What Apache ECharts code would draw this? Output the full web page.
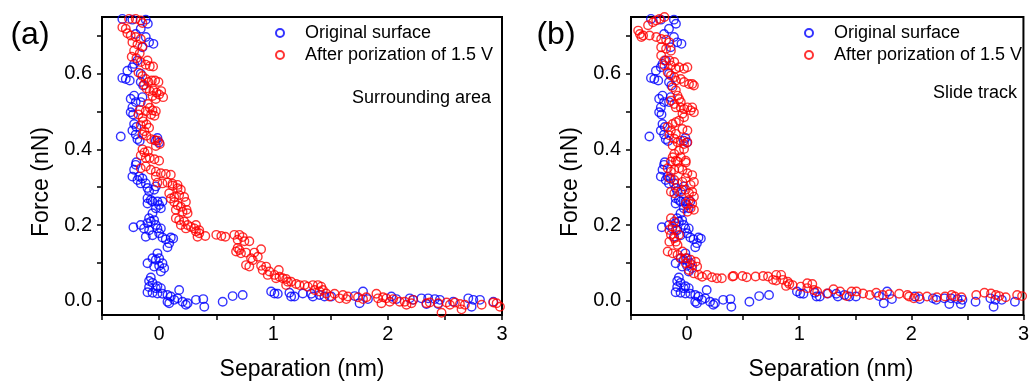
<!DOCTYPE html>
<html><head><meta charset="utf-8">
<script src="https://cdn.jsdelivr.net/npm/echarts@6/dist/echarts.min.js"></script>
<style>html,body{margin:0;padding:0;background:#fff}#chart{width:1032px;height:383px}</style>
</head><body><div id="chart"></div>
<script>
// ---- tick / label values ----
const xTickValues = [-0.5, 0, 0.5, 1, 1.5, 2, 2.5, 3];
const xLabelValues = [0, 1, 2, 3];
const yTickValues = [0, 0.1, 0.2, 0.3, 0.4, 0.5, 0.6, 0.7];
const yLabelValues = [0, 0.2, 0.4, 0.6];
const seriesNames = ['Original surface', 'After porization of 1.5 V'];
const panelLetters = ['(a)', '(b)'];
const panelNotes = ['Surrounding area', 'Slide track'];
const xTitle = 'Separation (nm)';
const yTitle = 'Force (nN)';

// ---- data: [separation (nm), force (nN)] ----
const originalSurface = [
[-0.322,0.745],[-0.234,0.743],[-0.117,0.743],[-0.099,0.732],[-0.161,0.719],[-0.205,0.705],[-0.117,0.697],[-0.088,0.683],[-0.050,0.679],[-0.146,0.670],
[-0.190,0.635],[-0.219,0.626],[-0.234,0.617],[-0.278,0.608],[-0.322,0.589],[-0.292,0.586],[-0.257,0.582],[-0.161,0.600],[-0.161,0.578],[-0.140,0.569],
[-0.219,0.542],[-0.249,0.534],[-0.205,0.525],[-0.234,0.511],[-0.249,0.498],[-0.228,0.492],[-0.146,0.538],[-0.161,0.525],[-0.219,0.467],[-0.199,0.459],
[-0.234,0.450],[-0.205,0.439],[-0.336,0.434],[-0.190,0.427],[-0.170,0.422],[-0.015,0.430],[0.000,0.418],[-0.029,0.423],[-0.199,0.366],
[-0.205,0.359],[-0.219,0.346],[-0.234,0.328],[-0.175,0.328],[-0.190,0.319],[-0.146,0.323],[-0.161,0.310],[-0.117,0.310],[-0.102,0.298],[-0.088,0.289],
[-0.044,0.293],[-0.029,0.302],[-0.102,0.271],[-0.073,0.266],[-0.102,0.257],[-0.058,0.262],[-0.015,0.262],[0.000,0.253],[0.029,0.262],[0.015,0.244],
[-0.029,0.244],[-0.058,0.231],[-0.088,0.218],[-0.073,0.209],[-0.102,0.205],[-0.044,0.213],[-0.029,0.200],[-0.225,0.194],[-0.161,0.200],[-0.132,0.191],
[-0.117,0.169],[-0.088,0.186],[-0.058,0.173],[-0.015,0.191],[0.015,0.191],[0.000,0.178],[0.029,0.167],[0.058,0.162],[0.088,0.152],[0.073,0.141],
[0.102,0.167],[0.123,0.164],[-0.015,0.125],[0.000,0.112],[-0.029,0.108],[-0.058,0.112],[-0.102,0.099],[-0.044,0.090],[0.000,0.092],[0.029,0.099],
[0.044,0.086],[0.015,0.077],[-0.073,0.061],[-0.088,0.052],[-0.058,0.047],[-0.015,0.038],[-0.088,0.036],[-0.029,0.033],[0.015,0.033],[-0.102,0.022],
[-0.058,0.021],[-0.015,0.019],[0.029,0.018],[0.073,0.015],[0.102,0.011],[0.073,-0.003],[0.088,-0.007],[0.132,0.002],[0.175,0.028],[0.161,0.006],
[0.205,-0.003],[0.234,-0.011],[0.249,-0.007],[0.322,0.002],[0.386,0.004],[0.395,-0.016],
[0.556,-0.003],[0.643,0.012],[0.731,0.015],[0.980,0.024],[1.009,0.019],[1.038,0.018],[1.140,0.021],[1.155,0.011],[1.184,0.011],[1.257,0.019],
[1.330,0.018],[1.345,0.011],[1.404,0.015],[1.447,0.011],[1.506,0.011],[1.711,0.012],[1.784,0.024],[1.754,-0.007],[1.827,0.004],[2.032,0.011],
[2.076,0.004],[2.193,0.006],[2.222,0.002],[2.295,0.006],[2.354,0.006],[2.339,-0.009],[2.412,0.004],[2.456,0.002],[2.442,-0.009],[2.573,-0.003],
[2.705,0.006],[2.749,0.002],[2.734,-0.016],[2.807,0.002],[2.924,-0.003]
];

const porizedSurrounding = [
[-0.263,0.745],[-0.205,0.745],[-0.161,0.741],[-0.146,0.734],[-0.322,0.723],[-0.292,0.719],[-0.278,0.707],[-0.249,0.701],[-0.205,0.697],[-0.161,0.692],
[-0.234,0.683],[-0.190,0.677],[-0.146,0.672],[-0.219,0.661],[-0.170,0.654],[-0.240,0.645],[-0.199,0.641],[-0.161,0.631],[-0.102,0.635],[-0.117,0.624],
[-0.082,0.620],[-0.053,0.619],[-0.181,0.603],[-0.146,0.594],[-0.117,0.586],[-0.094,0.578],[-0.064,0.582],[-0.035,0.582],[-0.006,0.578],[-0.132,0.571],
[-0.111,0.561],[-0.082,0.554],[-0.050,0.556],[-0.023,0.550],[0.018,0.554],[0.035,0.538],[0.000,0.545],[-0.058,0.541],[-0.029,0.533],[-0.099,0.520],
[-0.082,0.510],[-0.117,0.501],[-0.058,0.503],[-0.029,0.501],[-0.070,0.492],[-0.041,0.489],[-0.170,0.504],[-0.181,0.492],[-0.146,0.483],[-0.140,0.474],
[-0.111,0.466],[-0.161,0.464],[-0.088,0.457],[-0.129,0.448],[-0.146,0.439],[-0.111,0.436],[-0.070,0.427],[-0.041,0.425],[-0.012,0.423],[0.006,0.414],
[-0.029,0.409],[-0.146,0.400],[-0.129,0.392],[-0.099,0.395],[-0.161,0.384],[-0.117,0.377],[-0.082,0.377],[-0.041,0.374],[0.000,0.370],
[-0.117,0.355],[-0.073,0.346],[-0.029,0.341],[0.015,0.337],[0.058,0.335],[0.102,0.333],[-0.161,0.350],[-0.015,0.312],[0.029,0.310],[0.073,0.312],
[0.117,0.309],[0.161,0.306],[-0.029,0.328],[0.190,0.293],[0.161,0.297],[0.117,0.304],[0.088,0.284],[0.102,0.270],[0.132,0.274],[0.175,0.279],
[0.219,0.274],[0.234,0.261],[0.132,0.261],[0.161,0.252],[0.190,0.248],[0.146,0.240],[0.205,0.235],[0.240,0.240],[0.249,0.231],[0.146,0.218],
[0.175,0.213],[0.219,0.209],[0.190,0.200],[0.249,0.200],[0.234,0.191],[0.278,0.195],[0.307,0.191],[0.322,0.200],[0.322,0.183],[0.351,0.178],
[0.336,0.169],[0.404,0.171],[0.351,0.186],[0.500,0.174],[0.544,0.171],[0.579,0.169],
[0.658,0.174],[0.702,0.174],[0.731,0.168],[0.687,0.161],[0.789,0.157],[0.746,0.157],[0.687,0.139],[0.673,0.130],[0.702,0.134],[0.716,0.125],
[0.760,0.127],[0.833,0.127],[0.892,0.136],[0.863,0.116],[0.804,0.112],[0.760,0.094],[0.789,0.090],[0.819,0.107],[0.892,0.092],[0.936,0.090],
[0.906,0.081],[0.965,0.077],[0.950,0.068],[1.009,0.068],[1.047,0.081],[1.023,0.059],[1.053,0.063],[1.082,0.059],[1.111,0.057],[1.126,0.050],
[1.155,0.050],[1.111,0.041],[1.199,0.044],[1.228,0.041],[1.272,0.041],[1.301,0.037],[1.345,0.041],[1.389,0.041],[1.418,0.037],[1.433,0.028],
[1.360,0.028],[1.404,0.024],[1.462,0.019],[1.491,0.011],[1.535,0.018],[1.579,0.006],[1.608,0.015],[1.652,0.011],[1.637,0.004],[1.740,0.009],
[1.784,0.004],[1.813,0.009],[1.901,0.018],[1.915,0.006],[1.959,0.009],[1.945,-0.007],[1.988,0.006],[2.018,-0.003],[2.047,0.004],[2.105,-0.003],
[2.149,-0.003],[2.164,-0.011],[2.208,-0.007],[2.222,0.002],[2.339,-0.007],[2.368,-0.005],[2.442,-0.007],[2.471,-0.032],[2.515,-0.005],[2.544,-0.011],
[2.588,-0.005],[2.632,-0.009],[2.646,-0.023],[2.675,-0.011],[2.822,-0.011],[2.924,-0.005],[2.953,-0.007],[2.982,-0.016]
];

const porizedSlideTrack = [
[-0.436,0.714],[-0.421,0.705],[-0.407,0.697],[-0.392,0.701],[-0.348,0.728],[-0.304,0.736],[-0.275,0.741],[-0.246,0.745],[-0.202,0.750],[-0.334,0.701],
[-0.275,0.697],[-0.231,0.692],[-0.187,0.690],[-0.158,0.683],[-0.231,0.670],[-0.187,0.666],[-0.144,0.661],[-0.231,0.648],[-0.202,0.635],[-0.158,0.635],
[-0.114,0.631],[-0.202,0.622],[-0.144,0.622],[-0.100,0.613],[-0.071,0.617],[-0.027,0.613],[0.003,0.617],[-0.173,0.604],[-0.144,0.595],[-0.114,0.591],
[-0.100,0.582],[-0.056,0.586],[-0.027,0.578],[0.017,0.573],[0.046,0.573],[0.061,0.569],[-0.129,0.564],[-0.100,0.556],[-0.085,0.542],[-0.144,0.529],
[-0.114,0.520],[-0.071,0.533],[-0.056,0.525],[-0.100,0.511],[-0.056,0.511],[-0.027,0.507],[0.003,0.511],[0.032,0.503],[0.061,0.498],[0.046,0.511],
[-0.041,0.494],[-0.027,0.485],[-0.071,0.476],[-0.100,0.472],[-0.129,0.467],[-0.173,0.459],[-0.144,0.450],[-0.158,0.437],[-0.100,0.441],[-0.041,0.454],
[0.003,0.450],[-0.114,0.428],[-0.085,0.419],[-0.056,0.423],[-0.027,0.414],[0.003,0.419],[-0.129,0.410],[-0.071,0.397],[-0.027,0.401],[-0.114,0.388],
[-0.056,0.379],[-0.012,0.370],[-0.100,0.370],[-0.129,0.379],
[-0.144,0.368],[-0.085,0.368],[-0.012,0.365],[-0.173,0.350],[-0.144,0.341],[-0.114,0.346],[-0.071,0.350],[-0.041,0.346],[0.003,0.337],[0.046,0.332],
[-0.158,0.324],[-0.114,0.319],[-0.085,0.310],[-0.041,0.314],[-0.012,0.324],[0.032,0.306],[0.061,0.314],[-0.144,0.288],[-0.114,0.284],[-0.056,0.288],
[-0.012,0.293],[0.017,0.284],[0.046,0.288],[0.061,0.275],[0.017,0.266],[0.046,0.257],[0.061,0.240],[0.032,0.244],[0.003,0.235],[-0.012,0.257],
[-0.144,0.218],[-0.114,0.209],[-0.129,0.196],[-0.158,0.187],[-0.100,0.187],[-0.144,0.174],[-0.114,0.165],[-0.071,0.174],[-0.158,0.156],[-0.100,0.156],
[-0.085,0.147],[-0.173,0.130],[-0.129,0.125],[-0.085,0.121],[-0.041,0.130],[-0.056,0.112],[-0.012,0.112],[-0.012,0.099],[0.032,0.108],[0.046,0.094],
[0.076,0.103],[0.090,0.090],[0.017,0.081],[0.061,0.072],[0.105,0.068],[0.134,0.063],[0.178,0.068],[0.222,0.062],[0.266,0.059],[0.310,0.059],
[0.405,0.064],[0.415,0.065],[0.494,0.065],[0.532,0.062],[0.611,0.064],[0.678,0.065],[0.722,0.064],[0.766,0.055],[0.795,0.068],[0.839,0.068],
[0.795,0.053],[0.854,0.055],[0.898,0.050],[0.912,0.044],[0.883,0.039],[0.941,0.041],[1.014,0.037],[1.072,0.046],[1.117,0.044],[1.072,0.033],
[1.131,0.028],[1.160,0.024],[1.248,0.019],[1.306,0.030],[1.365,0.024],[1.423,0.012],[1.467,0.024],[1.511,0.024],[1.570,0.019],[1.629,0.015],
[1.687,0.021],[1.746,0.015],[1.804,0.017],[1.892,0.018],[1.965,0.015],[1.980,0.011],[2.023,0.006],[2.067,0.011],[2.140,0.011],[2.228,0.009],
[2.301,0.011],[2.360,0.015],[2.389,0.011],[2.447,0.009],[2.579,0.015],[2.652,0.021],[2.711,0.019],[2.754,0.015],[2.784,0.012],[2.842,0.009],
[2.944,0.015],[2.988,0.012]
];

// ---- chart ----
const FONT = '"Liberation Sans", Arial, Helvetica, sans-serif';
const BLUE = '#0000ff';
const RED = '#ff0000';
const grids = [
  { left: 102, top: 17, width: 400, height: 298 },
  { left: 631, top: 17, width: 400, height: 298 }
];

function makeX(i) {
  return {
    type: 'value', gridIndex: i, min: -0.5, max: 3,
    axisLine: { show: true, onZero: false, lineStyle: { color: '#000', width: 2 } },
    axisTick: { show: true, customValues: xTickValues, length: 5, lineStyle: { color: '#000', width: 1.5 } },
    axisLabel: { customValues: xLabelValues, formatter: v => String(v), fontSize: 20, color: '#000', margin: 9, fontFamily: FONT },
    splitLine: { show: false }
  };
}
function makeY(i) {
  return {
    type: 'value', gridIndex: i, min: -0.038, max: 0.75,
    axisLine: { show: true, onZero: false, lineStyle: { color: '#000', width: 2 } },
    axisTick: { show: true, customValues: yTickValues, length: 5, lineStyle: { color: '#000', width: 1.5 } },
    axisLabel: { customValues: yLabelValues, formatter: v => v.toFixed(1), fontSize: 20, color: '#000', margin: 10, fontFamily: FONT },
    splitLine: { show: false }
  };
}
function makeSeries(name, i, data, color, z) {
  return {
    type: 'scatter', name, xAxisIndex: i, yAxisIndex: i, data, z,
    symbol: 'circle', symbolSize: 8.5,
    itemStyle: { color: 'rgba(255,255,255,0)', borderColor: color, borderWidth: 1.4 },
    emphasis: { disabled: true }
  };
}
function makeLegend(left) {
  return {
    orient: 'vertical', left, top: 24, padding: 0, itemWidth: 40, itemHeight: 8, itemGap: 4,
    data: seriesNames, selectedMode: false,
    textStyle: { fontSize: 18, lineHeight: 18, color: '#000', fontFamily: FONT }
  };
}
function txt(x, y, text, size, align, rotation) {
  return {
    type: 'text', x, y, rotation: rotation || 0, z: 10,
    style: { text, fill: '#000', font: size + 'px ' + FONT, align, verticalAlign: 'middle' }
  };
}

const chart = echarts.init(document.getElementById('chart'), null, { renderer: 'canvas' });
chart.setOption({
  animation: false,
  backgroundColor: '#fff',
  grid: grids.map(g => Object.assign({ show: true, borderColor: '#000', borderWidth: 2, backgroundColor: 'rgba(0,0,0,0)' }, g)),
  xAxis: [makeX(0), makeX(1)],
  yAxis: [makeY(0), makeY(1)],
  legend: [makeLegend(275), makeLegend(804)],
  series: [
    makeSeries(seriesNames[0], 0, originalSurface, BLUE, 2),
    makeSeries(seriesNames[1], 0, porizedSurrounding, RED, 3),
    makeSeries(seriesNames[0], 1, originalSurface, BLUE, 2),
    makeSeries(seriesNames[1], 1, porizedSlideTrack, RED, 3)
  ],
  graphic: [
    txt(30, 35, panelLetters[0], 32, 'center'),
    txt(556, 35, panelLetters[1], 32, 'center'),
    txt(491, 98, panelNotes[0], 18, 'right'),
    txt(1017, 93, panelNotes[1], 18, 'right'),
    txt(302, 370, xTitle, 23, 'center'),
    txt(831, 370, xTitle, 23, 'center'),
    txt(42, 182, yTitle, 23, 'center', Math.PI / 2),
    txt(571, 182, yTitle, 23, 'center', Math.PI / 2)
  ]
});
</script></body></html>
